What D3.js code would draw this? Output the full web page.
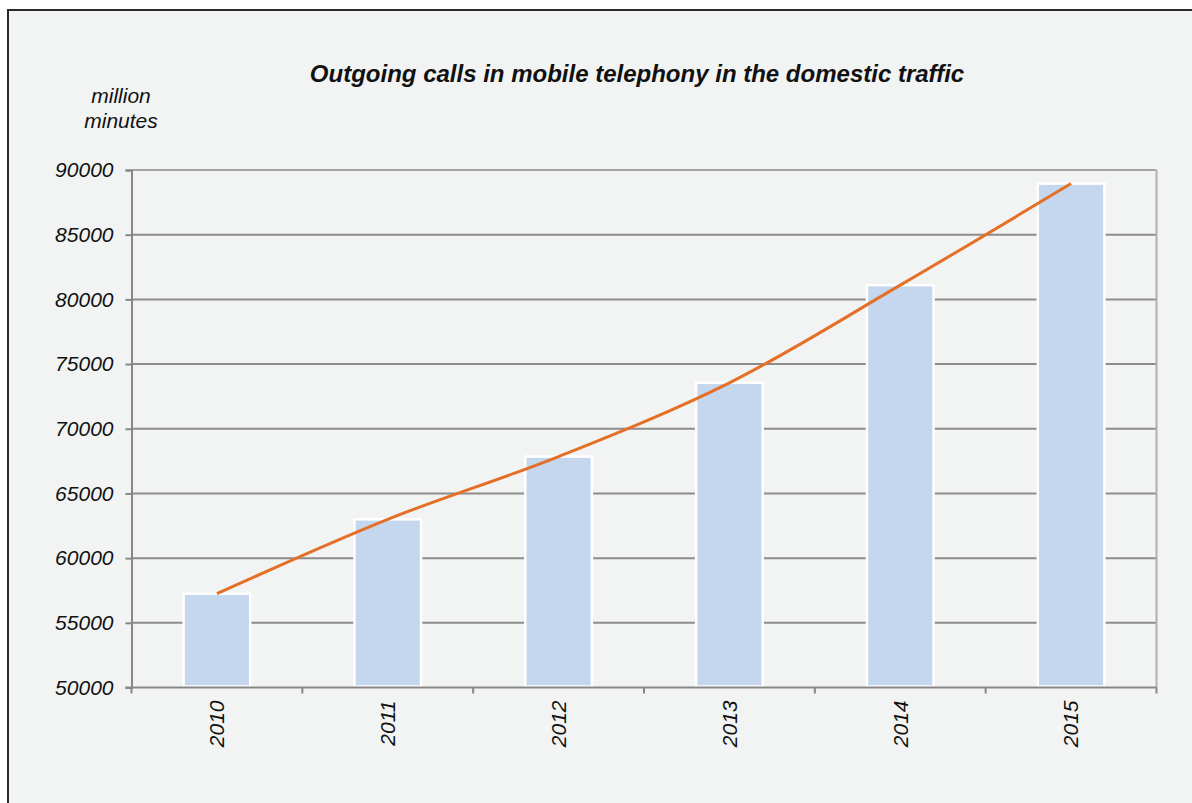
<!DOCTYPE html>
<html>
<head>
<meta charset="utf-8">
<script src="https://cdn.jsdelivr.net/npm/d3@7"></script>
<style>
  html, body { margin: 0; padding: 0; background: #ffffff; }
  svg { display: block; }
  text { font-family: "Liberation Sans", Arial, sans-serif; font-style: italic; fill: #111; }
</style>
</head>
<body>
<svg id="chart" width="1192" height="803"></svg>
<script>
const years = ["2010", "2011", "2012", "2013", "2014", "2015"];
const minutes = [57250, 63000, 67850, 73550, 81100, 88950];
const yTicks = [50000, 55000, 60000, 65000, 70000, 75000, 80000, 85000, 90000];
const titleText = "Outgoing calls in mobile telephony in the domestic traffic";
const unitLines = ["million", "minutes"];

const svg = d3.select("#chart");
const W = 1192, H = 803;

// Outer frame
svg.append("rect").attr("x", 8).attr("y", 10).attr("width", W).attr("height", H)
  .attr("fill", "#f2f4f3").attr("stroke", "#2b2b2b").attr("stroke-width", 2);

const plot = { left: 131.5, right: 1156.5, top: 170, bottom: 687.5 };

const x = d3.scaleBand().domain(years).range([plot.left, plot.right]).padding(0);
const y = d3.scaleLinear().domain([50000, 90000]).range([plot.bottom, plot.top]);

// Gridlines
svg.append("g").selectAll("line").data(yTicks.filter(t => t > 50000)).join("line")
  .attr("x1", plot.left).attr("x2", plot.right)
  .attr("y1", d => y(d)).attr("y2", d => y(d))
  .attr("stroke", d => d === 90000 ? "#a3a3a3" : "#8c8c8c").attr("stroke-width", 2);

// right plot border
svg.append("line").attr("x1", plot.right).attr("x2", plot.right)
  .attr("y1", plot.top).attr("y2", plot.bottom)
  .attr("stroke", "#b0b0b0").attr("stroke-width", 2);

// Y axis
const yAxis = d3.axisLeft(y).tickValues(yTicks).tickSize(6).tickPadding(12).tickFormat(d3.format("d"));
const gy = svg.append("g").attr("transform", `translate(${plot.left},0)`).call(yAxis);
gy.select(".domain").attr("stroke", "#878787").attr("stroke-width", 2);
gy.selectAll(".tick line").attr("stroke", "#878787").attr("stroke-width", 2);
gy.selectAll(".tick text").attr("font-size", 21).attr("fill", "#111")
  .attr("font-family", "'Liberation Sans', Arial, sans-serif").attr("font-style", "italic");

// Bars
const barW = x.bandwidth() * 0.39;
svg.append("g").selectAll("rect").data(years).join("rect")
  .attr("x", d => x(d) + x.bandwidth() / 2 - barW / 2)
  .attr("y", (d, i) => y(minutes[i]))
  .attr("width", barW)
  .attr("height", (d, i) => y(50000) - y(minutes[i]) - 1)
  .attr("fill", "#c5d7ee").attr("stroke", "#ffffff").attr("stroke-width", 2.5);

// X axis
const xAxisG = svg.append("g").attr("transform", `translate(0,${plot.bottom})`);
xAxisG.append("line").attr("x1", plot.left - 6).attr("x2", plot.right)
  .attr("stroke", "#878787").attr("stroke-width", 2);
const boundaries = years.map(d => x(d)).concat([plot.right]);
xAxisG.selectAll("line.tk").data(boundaries).join("line").attr("class", "tk")
  .attr("x1", d => d).attr("x2", d => d).attr("y1", 0).attr("y2", 6)
  .attr("stroke", "#878787").attr("stroke-width", 2);
xAxisG.selectAll("text").data(years).join("text")
  .attr("transform", d => `translate(${x(d) + x.bandwidth() / 2},${13}) rotate(-90)`)
  .attr("text-anchor", "end").attr("dy", "0.35em").attr("font-size", 21)
  .text(d => d);

// Trend line
const line = d3.line()
  .x((d, i) => x(years[i]) + x.bandwidth() / 2)
  .y(d => y(d))
  .curve(d3.curveCatmullRom.alpha(0.5));
svg.append("path").datum(minutes).attr("d", line)
  .attr("fill", "none").attr("stroke", "#e46f26").attr("stroke-width", 3);

// Title
svg.append("text").attr("x", 637).attr("y", 82).attr("text-anchor", "middle")
  .attr("font-size", 24).attr("font-weight", "bold").text(titleText);

// Unit label
svg.append("text").attr("x", 121).attr("y", 103).attr("text-anchor", "middle")
  .attr("font-size", 21)
  .selectAll("tspan").data(unitLines).join("tspan")
  .attr("x", 121).attr("dy", (d, i) => i === 0 ? 0 : 25).text(d => d);
</script>
</body>
</html>
